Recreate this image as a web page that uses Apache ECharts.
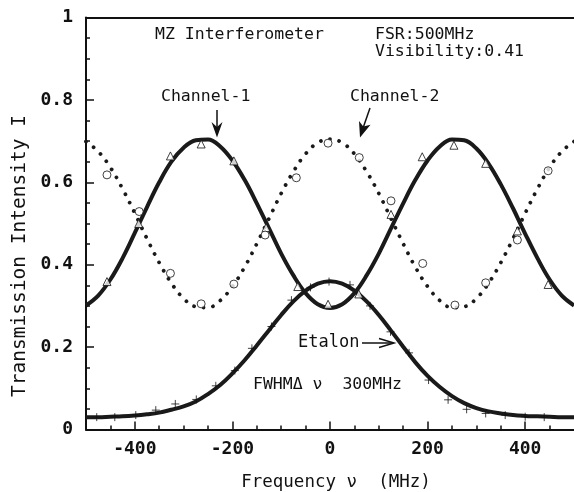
<!DOCTYPE html>
<html><head><meta charset="utf-8">
<script src="https://cdn.jsdelivr.net/npm/echarts@6/dist/echarts.min.js"></script>
<style>html,body{margin:0;padding:0;background:#fff}#c{width:574px;height:492px}</style>
</head><body><div id="c"></div>
<script>
// ---- data ----
const freqGrid = [-500,-475,-450,-425,-400,-375,-350,-325,-300,-275,-250,-225,-200,-175,-150,-125,-100,-75,-50,-25,0,
                  25,50,75,100,125,150,175,200,225,250,275,300,325,350,375,400,425,450,475,500];
const channel1Fit = [0.301,0.325,0.364,0.416,0.477,0.540,0.600,0.650,0.684,0.702,0.704,0.687,0.653,0.606,0.549,0.488,0.427,0.374,0.331,0.304,0.295,
                     0.304,0.331,0.374,0.427,0.488,0.549,0.606,0.653,0.687,0.704,0.702,0.682,0.645,0.595,0.537,0.475,0.416,0.364,0.325,0.301];
const channel2Fit = [0.699,0.675,0.636,0.584,0.525,0.463,0.405,0.355,0.318,0.298,0.296,0.313,0.347,0.394,0.451,0.512,0.573,0.626,0.669,0.696,0.705,
                     0.696,0.669,0.626,0.573,0.512,0.451,0.394,0.347,0.313,0.296,0.298,0.318,0.355,0.405,0.463,0.525,0.584,0.636,0.675,0.699];
const etalonFit = [0.030,0.030,0.031,0.032,0.034,0.037,0.041,0.048,0.056,0.068,0.086,0.108,0.136,0.168,0.204,0.241,0.278,0.311,0.337,0.354,0.360,
                   0.354,0.337,0.311,0.278,0.240,0.201,0.163,0.130,0.103,0.081,0.064,0.052,0.044,0.039,0.035,0.033,0.032,0.031,0.030,0.030];

const channel1MeasFreq = [-457,-392,-327,-264,-197,-131,-66,-4,59,125,189,254,319,384,447];
const channel1MeasVal  = [0.359,0.500,0.664,0.693,0.652,0.490,0.347,0.304,0.329,0.522,0.662,0.690,0.646,0.482,0.352];
const channel2MeasFreq = [-457,-391,-327,-264,-197,-133,-69,-4,60,125,190,256,319,384,447];
const channel2MeasVal  = [0.618,0.529,0.379,0.305,0.353,0.472,0.611,0.695,0.660,0.555,0.403,0.302,0.356,0.460,0.628];
const etalonMeasFreq = [-478,-441,-398,-357,-317,-274,-234,-195,-160,-120,-79,-40,-2,41,82,124,162,202,242,280,319,359,400,439];
const etalonMeasVal  = [0.030,0.030,0.035,0.047,0.062,0.073,0.106,0.143,0.197,0.250,0.314,0.345,0.359,0.351,0.300,0.237,0.186,0.120,0.072,0.049,0.039,0.035,0.031,0.030];

const xMajorTicks = [-400,-200,0,200,400];
const xMinorTicks = [-450,-350,-300,-250,-150,-100,-50,50,100,150,250,300,350,450];

// ---- chart ----
const zip = (a, b) => a.map((v, i) => [v, b[i]]);
const MONO = "'DejaVu Sans Mono', monospace";
const INK = '#111';
const chart = echarts.init(document.getElementById('c'), null, {renderer: 'canvas'});

const textEl = (text, x, y, size, align) => ({
  type: 'text', x: x, y: y, z: 100,
  style: {text: text, fill: INK, fontFamily: MONO, fontSize: size,
          textAlign: align || 'left', align: align || 'left', textVerticalAlign: 'middle', verticalAlign: 'middle'}
});

const option = {
  backgroundColor: '#fff',
  animation: false,
  grid: {left: 86, right: -9, top: 17.5, bottom: 62.5, containLabel: false},
  xAxis: [
    {type: 'value', min: -500, max: 500, position: 'bottom',
     axisLine: {show: true, onZero: false, lineStyle: {color: INK, width: 2}},
     axisTick: {show: true, inside: true, length: 8, customValues: xMajorTicks, lineStyle: {color: INK, width: 1.5}},
     axisLabel: {show: true, customValues: xMajorTicks, margin: 11, color: INK, fontFamily: MONO, fontSize: 18, fontWeight: 'bold'},
     splitLine: {show: false}},
    {type: 'value', min: -500, max: 500, position: 'bottom', offset: 0,
     axisLine: {show: false, onZero: false},
     axisTick: {show: true, inside: true, length: 4, customValues: xMinorTicks, lineStyle: {color: INK, width: 1.5}},
     axisLabel: {show: false}, splitLine: {show: false}},
    {type: 'value', min: -500, max: 500, position: 'top',
     axisLine: {show: true, onZero: false, lineStyle: {color: INK, width: 2}},
     axisTick: {show: false}, axisLabel: {show: false}, splitLine: {show: false}}
  ],
  yAxis: {
    type: 'value', min: 0, max: 1, interval: 0.2, position: 'left',
    axisLine: {show: true, onZero: false, lineStyle: {color: INK, width: 2}},
    axisTick: {show: true, inside: true, length: 8, lineStyle: {color: INK, width: 1.5}},
    minorTick: {show: true, splitNumber: 4, length: 4, lineStyle: {color: INK, width: 1.5}},
    axisLabel: {margin: 13, color: INK, fontFamily: MONO, fontSize: 18, fontWeight: 'bold',
                formatter: v => (v === 0 ? '0' : v === 1 ? '1' : v.toFixed(1))},
    splitLine: {show: false}
  },
  series: [
    {name: 'Channel-1 fit', type: 'line', smooth: 0.4, symbol: 'none', data: zip(freqGrid, channel1Fit),
     lineStyle: {color: '#1a1a1a', width: 4}, z: 2},
    {name: 'Channel-2 fit', type: 'line', smooth: 0.4, symbol: 'none', data: zip(freqGrid, channel2Fit),
     lineStyle: {color: '#1a1a1a', width: 3.8, type: [0.01, 9.5], cap: 'round'}, z: 2},
    {name: 'Etalon fit', type: 'line', smooth: 0.4, symbol: 'none', data: zip(freqGrid, etalonFit),
     lineStyle: {color: '#1a1a1a', width: 4}, z: 2},
    {name: 'Channel-1', type: 'scatter', symbol: 'triangle', symbolSize: 8, data: zip(channel1MeasFreq, channel1MeasVal),
     itemStyle: {color: '#fff', borderColor: INK, borderWidth: 1}, z: 5},
    {name: 'Channel-2', type: 'scatter', symbol: 'circle', symbolSize: 8, data: zip(channel2MeasFreq, channel2MeasVal),
     itemStyle: {color: '#fff', borderColor: INK, borderWidth: 1}, z: 5},
    {name: 'Etalon', type: 'scatter', symbol: 'path://M0 5H10M5 0V10', symbolSize: 8, data: zip(etalonMeasFreq, etalonMeasVal),
     itemStyle: {color: 'transparent', borderColor: INK, borderWidth: 1}, z: 5}
  ],
  graphic: [
    textEl('MZ Interferometer', 155, 35, 16.5),
    textEl('FSR:500MHz', 375, 35, 16.5),
    textEl('Visibility:0.41', 375, 52, 16.5),
    textEl('Channel-1', 161, 97, 16.5),
    textEl('Channel-2', 350, 97, 16.5),
    textEl('Etalon', 298, 343, 17),
    textEl('FWHM\u0394 \u03bd  300MHz', 253, 385, 16.5),
    textEl('Frequency \u03bd  (MHz)', 336, 482, 17.5, 'center'),
    {type: 'text', x: 20, y: 256, rotation: Math.PI / 2, z: 100,
     style: {text: 'Transmission Intensity I', fill: INK, fontFamily: MONO, fontSize: 19.5,
             textAlign: 'center', align: 'center', textVerticalAlign: 'middle', verticalAlign: 'middle'}},
    // arrows
    {type: 'line', z: 100, shape: {x1: 217, y1: 110, x2: 217, y2: 130}, style: {stroke: INK, lineWidth: 1.5}},
    {type: 'polygon', z: 100, shape: {points: [[217, 137.5], [211.5, 122], [217, 127], [222.5, 122]]}, style: {fill: INK}},
    {type: 'line', z: 100, shape: {x1: 370, y1: 108, x2: 362, y2: 131}, style: {stroke: INK, lineWidth: 1.5}},
    {type: 'polygon', z: 100, shape: {points: [[360, 137.5], [359, 121], [363.3, 126.5], [370.5, 124.8]]}, style: {fill: INK}},
    {type: 'line', z: 100, shape: {x1: 362, y1: 343, x2: 392, y2: 343}, style: {stroke: INK, lineWidth: 1.5}},
    {type: 'polyline', z: 100, shape: {points: [[379, 338.5], [394, 343], [379, 347.5]]}, style: {stroke: INK, lineWidth: 1.5, fill: null}}
  ]
};
chart.setOption(option);
</script>
</body></html>
